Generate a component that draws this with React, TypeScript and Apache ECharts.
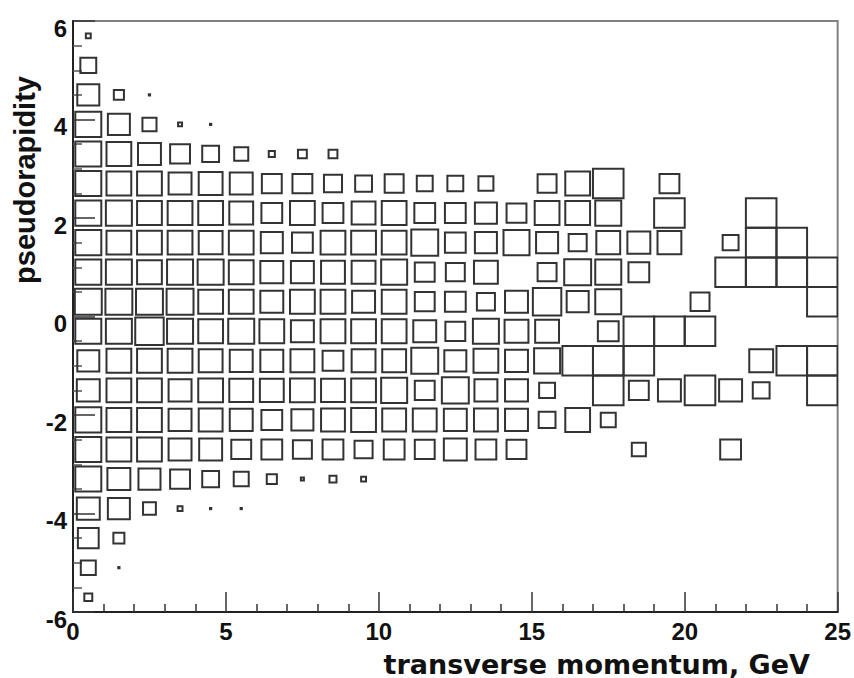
import React, { useEffect, useRef } from "react";
import * as echarts from "echarts";

// Bin centres (GeV for transverse momentum, unitless for pseudorapidity)
const ptCenters = [0.5, 1.5, 2.5, 3.5, 4.5, 5.5, 6.5, 7.5, 8.5, 9.5, 10.5, 11.5, 12.5, 13.5, 14.5, 15.5, 16.5, 17.5, 18.5, 19.5, 20.5, 21.5, 22.5, 23.5, 24.5];
const etaCenters = [5.7, 5.1, 4.5, 3.9, 3.3, 2.7, 2.1, 1.5, 0.9, 0.3, -0.3, -0.9, -1.5, -2.1, -2.7, -3.3, -3.9, -4.5, -5.1, -5.7];
const ptBinWidth = 1;
const etaBinWidth = 0.6;
const maxCount = 100;

// Relative bin contents, one array per pseudorapidity row (top to bottom)
const eta_5_7 = [16, 0, 0, 0, 0, 0, 0, 0, 0, 0, 0, 0, 0, 0, 0, 0, 0, 0, 0, 0, 0, 0, 0, 0, 0];
const eta_5_1 = [52, 0, 0, 0, 0, 0, 0, 0, 0, 0, 0, 0, 0, 0, 0, 0, 0, 0, 0, 0, 0, 0, 0, 0, 0];
const eta_4_5 = [72, 33, 4, 0, 0, 0, 0, 0, 0, 0, 0, 0, 0, 0, 0, 0, 0, 0, 0, 0, 0, 0, 0, 0, 0];
const eta_3_9 = [85, 72, 46, 13, 4, 0, 0, 0, 0, 0, 0, 0, 0, 0, 0, 0, 0, 0, 0, 0, 0, 0, 0, 0, 0];
const eta_3_3 = [85, 81, 75, 65, 55, 46, 20, 29, 29, 0, 0, 0, 0, 0, 0, 0, 0, 0, 0, 0, 0, 0, 0, 0, 0];
const eta_2_7 = [85, 81, 81, 75, 78, 75, 65, 65, 59, 55, 62, 52, 52, 49, 0, 62, 81, 100, 0, 65, 0, 0, 0, 0, 0];
const eta_2_1 = [85, 85, 81, 81, 81, 78, 68, 81, 68, 78, 81, 68, 68, 72, 65, 81, 81, 85, 0, 100, 0, 0, 100, 0, 0];
const eta_1_5 = [85, 81, 81, 81, 78, 81, 72, 68, 81, 81, 81, 88, 68, 72, 85, 72, 59, 78, 75, 78, 0, 52, 100, 100, 0];
const eta_0_9 = [85, 85, 81, 85, 85, 81, 75, 75, 78, 78, 85, 65, 62, 78, 0, 62, 88, 85, 68, 0, 0, 100, 100, 100, 100];
const eta_0_3 = [88, 88, 88, 88, 81, 81, 75, 81, 81, 75, 81, 65, 68, 59, 75, 93, 72, 85, 0, 0, 62, 0, 0, 0, 100];
const eta_m0_3 = [85, 85, 93, 85, 81, 85, 81, 75, 81, 81, 81, 75, 65, 85, 78, 78, 0, 68, 100, 100, 100, 0, 0, 0, 0];
const eta_m0_9 = [72, 81, 81, 81, 78, 75, 75, 78, 68, 78, 78, 88, 72, 81, 75, 85, 100, 100, 100, 0, 0, 0, 78, 100, 100];
const eta_m1_5 = [75, 81, 81, 75, 81, 78, 78, 81, 78, 81, 85, 65, 88, 75, 75, 52, 0, 100, 65, 75, 100, 75, 55, 0, 100];
const eta_m2_1 = [85, 81, 81, 75, 78, 75, 68, 72, 78, 81, 78, 78, 75, 78, 75, 55, 81, 49, 0, 0, 0, 0, 0, 0, 0];
const eta_m2_7 = [85, 81, 81, 75, 75, 65, 68, 62, 68, 59, 68, 65, 75, 68, 65, 0, 0, 0, 46, 0, 0, 68, 0, 0, 0];
const eta_m3_3 = [85, 75, 72, 65, 55, 49, 33, 10, 23, 16, 0, 0, 0, 0, 0, 0, 0, 0, 0, 0, 0, 0, 0, 0, 0];
const eta_m3_9 = [75, 72, 42, 16, 4, 4, 0, 0, 0, 0, 0, 0, 0, 0, 0, 0, 0, 0, 0, 0, 0, 0, 0, 0, 0];
const eta_m4_5 = [68, 36, 0, 0, 0, 0, 0, 0, 0, 0, 0, 0, 0, 0, 0, 0, 0, 0, 0, 0, 0, 0, 0, 0, 0];
const eta_m5_1 = [49, 4, 0, 0, 0, 0, 0, 0, 0, 0, 0, 0, 0, 0, 0, 0, 0, 0, 0, 0, 0, 0, 0, 0, 0];
const eta_m5_7 = [26, 0, 0, 0, 0, 0, 0, 0, 0, 0, 0, 0, 0, 0, 0, 0, 0, 0, 0, 0, 0, 0, 0, 0, 0];

const countRows = [
  eta_5_7, eta_5_1, eta_4_5, eta_3_9, eta_3_3, eta_2_7, eta_2_1, eta_1_5, eta_0_9, eta_0_3,
  eta_m0_3, eta_m0_9, eta_m1_5, eta_m2_1, eta_m2_7, eta_m3_3, eta_m3_9, eta_m4_5, eta_m5_1, eta_m5_7,
];

const xTitle = "transverse momentum, GeV";
const yTitle = "pseudorapidity";

export default function App() {
  const ref = useRef<HTMLDivElement>(null);

  useEffect(() => {
    document.body.style.margin = "0";
    if (!ref.current) return;
    const chart = echarts.init(ref.current, null, { renderer: "svg" });

    const data: number[][] = [];
    countRows.forEach((row, r) => {
      row.forEach((v, c) => {
        if (v > 0) data.push([ptCenters[c], etaCenters[r], v]);
      });
    });

    const labelFont = {
      fontFamily: "Liberation Sans",
      fontWeight: "bold" as const,
      fontSize: 24,
      color: "#111",
    };

    chart.setOption({
      animation: false,
      backgroundColor: "#fff",
      grid: {
        left: 73,
        right: 12,
        top: 21,
        bottom: 66,
        show: true,
        borderColor: "#808080",
        borderWidth: 2,
        backgroundColor: "transparent",
      },
      xAxis: {
        type: "value",
        min: 0,
        max: 25,
        interval: 5,
        axisLine: { show: true, onZero: false, lineStyle: { color: "#222", width: 2 } },
        axisTick: { show: true, inside: true, length: 20, lineStyle: { color: "#333", width: 1.5 } },
        minorTick: { show: true, splitNumber: 5, length: 8, lineStyle: { color: "#333", width: 1.5 } },
        splitLine: { show: false },
        axisLabel: { ...labelFont, margin: 7 },
      },
      yAxis: {
        type: "value",
        min: -6,
        max: 6,
        interval: 2,
        axisLine: { show: true, onZero: false, lineStyle: { color: "#222", width: 2 } },
        axisTick: { show: true, inside: true, length: 22, lineStyle: { color: "#333", width: 1.5 } },
        minorTick: { show: true, splitNumber: 4, length: 9, lineStyle: { color: "#555", width: 1.5 } },
        splitLine: { show: false },
        axisLabel: { ...labelFont, margin: 6, verticalAlign: "top", lineHeight: 14 },
      },
      series: [
        {
          type: "custom",
          clip: true,
          data,
          encode: { x: 0, y: 1 },
          renderItem: (params: any, api: any) => {
            const pt = api.value(0);
            const eta = api.value(1);
            const v = api.value(2);
            const c = api.coord([pt, eta]);
            const s = api.size([ptBinWidth, etaBinWidth]);
            const f = Math.min(v / maxCount, 1);
            const w = s[0] * f;
            const h = s[1] * f;
            return {
              type: "rect",
              shape: { x: c[0] - w / 2, y: c[1] - h / 2, width: w, height: h },
              style: { fill: "none", stroke: "#333", lineWidth: 2 },
            };
          },
        },
      ],
      graphic: [
        {
          type: "text",
          x: 25,
          y: 180,
          rotation: Math.PI / 2,
          style: {
            text: yTitle,
            fontFamily: "Liberation Sans",
            fontWeight: "bold",
            fontSize: 29,
            fill: "#111",
            align: "center",
            verticalAlign: "middle",
          },
        },
        {
          type: "text",
          x: 810,
          y: 664,
          style: {
            text: xTitle,
            fontFamily: "DejaVu Sans",
            fontWeight: "bold",
            fontSize: 27,
            lineHeight: 24,
            fill: "#111",
            align: "right",
            verticalAlign: "middle",
          },
        },
      ],
    });

    return () => chart.dispose();
  }, []);

  return (
    <div
      ref={ref}
      style={{ position: "absolute", left: 0, top: 0, width: 854, height: 678, overflow: "hidden" }}
    />
  );
}
